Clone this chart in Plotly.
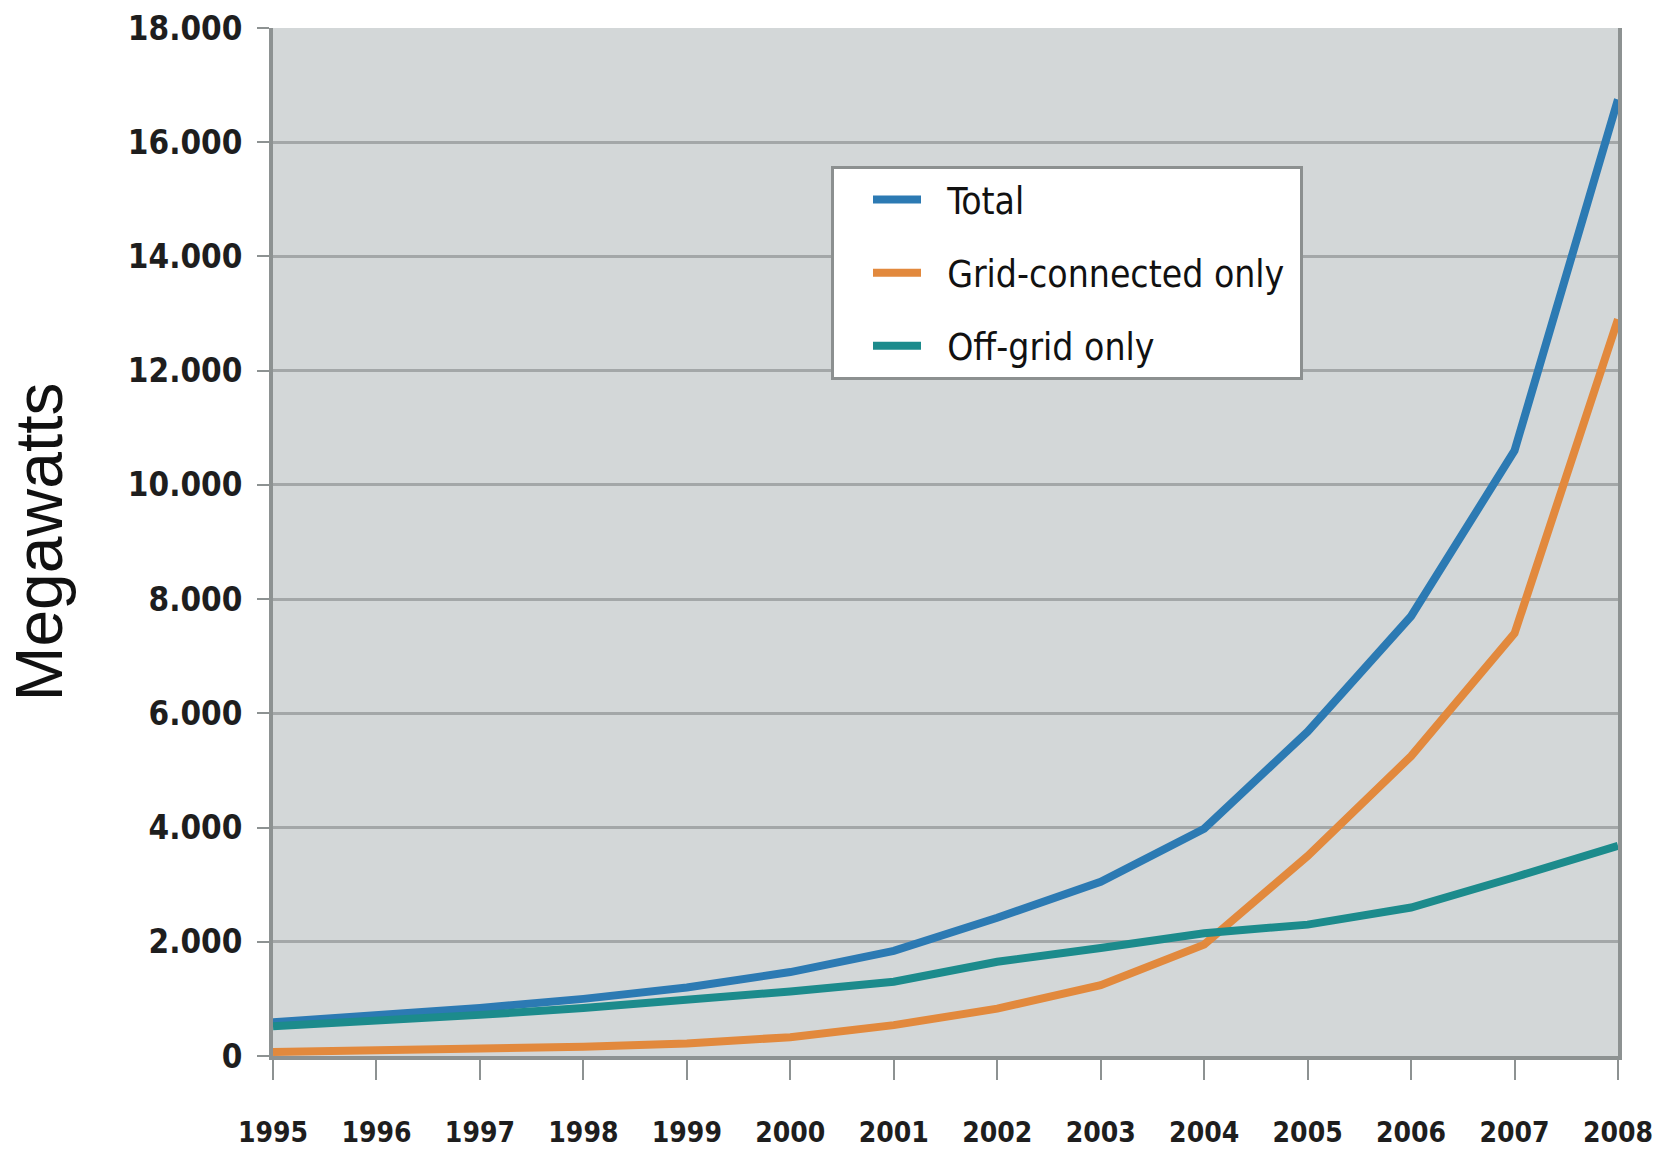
import plotly.graph_objects as go

years = list(range(1995, 2009))
total_mw = [590, 700, 840, 1000, 1200, 1470, 1840, 2420, 3050, 3980, 5680, 7700, 10600, 16750]
grid_mw = [70, 90, 120, 160, 220, 330, 540, 830, 1240, 1950, 3500, 5250, 7400, 12900]
offgrid_mw = [520, 610, 720, 840, 980, 1130, 1300, 1650, 1890, 2150, 2300, 2600, 3130, 3680]
series_names = ["Total", "Grid-connected only", "Off-grid only"]
y_ticks = list(range(0, 18001, 2000))

FONT = "Liberation Sans Narrow, DejaVu Sans Condensed, Arial Narrow, sans-serif"
NB = "\u00a0"

fig = go.Figure()
series = [
    (series_names[0], total_mw, "#2c7ab3"),
    (series_names[1], grid_mw, "#e2893d"),
    (series_names[2], offgrid_mw, "#1c8b8c"),
]
for name, vals, col in series:
    fig.add_trace(go.Scatter(
        x=years, y=vals, name=NB * 2 + name + NB, mode="lines",
        line=dict(color=col, width=8),
        legendgroup=name,
    ))

fig.update_layout(
    width=1661, height=1158,
    margin=dict(l=273, r=43, t=28, b=102, autoexpand=False),
    paper_bgcolor="white",
    plot_bgcolor="#d3d7d8",
    separators=",.",
    font=dict(family=FONT, color="#1e1e1e"),
    legend=dict(
        x=(831 - 273) / 1345, y=(1056 - 166) / 1028,
        xanchor="left", yanchor="top",
        bgcolor="white", bordercolor="#8c9090", borderwidth=3,
        font=dict(size=37, family=FONT, color="#111"),
        tracegroupgap=22, itemwidth=48, indentation=34,
    ),
    xaxis=dict(
        range=[1995, 2008], tickvals=years, ticktext=[str(y) for y in years],
        showgrid=False, zeroline=False, automargin=False,
        showline=True, linecolor="#8d9292", linewidth=4,
        ticks="outside", ticklen=20, tickwidth=2, tickcolor="#8d9292",
        ticklabelstandoff=28,
        tickfont=dict(size=28, family=FONT, color="#1e1e1e", weight="bold"),
    ),
    yaxis=dict(
        range=[0, 18000], tickvals=y_ticks, tickformat=",d", automargin=False,
        showgrid=True, gridcolor="#a3a7a8", gridwidth=3,
        zeroline=False,
        showline=True, mirror=True, linecolor="#8d9292", linewidth=4,
        ticks="outside", ticklen=12, tickwidth=2, tickcolor="#8d9292",
        ticklabelstandoff=8,
        tickfont=dict(size=33, family=FONT, color="#1e1e1e", weight="bold"),
        title=dict(text="Megawatts", standoff=45,
                   font=dict(size=66, family="Liberation Sans, Arial, sans-serif", color="#111")),
    ),
)

fig.write_html("out.html")
